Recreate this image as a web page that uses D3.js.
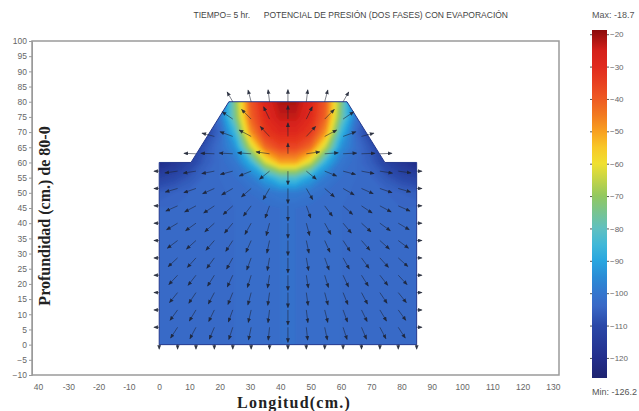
<!DOCTYPE html>
<html>
<head>
<meta charset="utf-8">
<script src="https://cdnjs.cloudflare.com/ajax/libs/d3/7.8.5/d3.min.js"></script>
<style>
  body { margin: 0; background: #fff; }
  text { font-family: "Liberation Sans", Arial, sans-serif; }
</style>
</head>
<body>
<svg class="chart"></svg>
<script>
var xTicks = [-40, -30, -20, -10, 0, 10, 20, 30, 40, 50, 60, 70, 80, 90, 100, 110, 120, 130];
var xTickLabels = ["40", "-30", "-20", "-10", "0", "10", "20", "30", "40", "50", "60", "70", "80", "90", "100", "110", "120", "130"];
var yTicks = [100, 95, 90, 85, 80, 75, 70, 65, 60, 55, 50, 45, 40, 35, 30, 25, 20, 15, 10, 5, 0, -5, -10];

// outline of the soil section (cm)
var shapeX = [0, 85, 85, 74.5, 62, 23, 10.5, 0];
var shapeY = [0, 0, 60, 60, 80, 80, 60, 60];

// pressure potential read on a 5 cm grid, rows from y = 80 down to y = 0
var gridX = [0, 5, 10, 15, 20, 25, 30, 35, 40, 45, 50, 55, 60, 65, 70, 75, 80, 85];
var gridY = [80, 75, 70, 65, 60, 55, 50, 45, 40, 35, 30, 25, 20, 15, 10, 5, 0];
var potential = [
  [-115, -115, -115, -115, -108, -72, -40, -28, -21.5, -21.5, -28, -40, -72, -108, -115, -115, -115, -115],
  [-115, -115, -115, -112, -100, -75, -42, -30, -23.5, -23.5, -30, -42, -75, -100, -112, -115, -115, -115],
  [-115, -115, -115, -112, -104, -85, -49, -33, -29, -29, -33, -49, -85, -104, -112, -115, -115, -115],
  [-115, -115, -114, -108, -102, -94, -66, -43, -36, -36, -43, -66, -94, -102, -108, -114, -115, -115],
  [-121, -117, -112, -106, -103, -100, -88, -64, -51, -51, -64, -88, -100, -103, -106, -112, -117, -121],
  [-112, -110, -107, -104, -103, -102, -99, -91, -82, -82, -91, -99, -102, -103, -104, -107, -110, -112],
  [-106, -105, -104, -104, -103.5, -102.5, -102, -100.5, -99, -99, -100.5, -102, -102.5, -103.5, -104, -104, -105, -106],
  [-104, -104, -104, -104, -103.5, -103, -103, -102.5, -102, -102, -102.5, -103, -103, -103.5, -104, -104, -104, -104],
  [-104, -104, -104, -104, -103.5, -103, -103, -102.5, -102, -102, -102.5, -103, -103, -103.5, -104, -104, -104, -104],
  [-104, -104, -104, -104, -103.5, -103, -103, -102.5, -102, -102, -102.5, -103, -103, -103.5, -104, -104, -104, -104],
  [-104, -104, -104, -104, -103.5, -103, -103, -102.5, -102, -102, -102.5, -103, -103, -103.5, -104, -104, -104, -104],
  [-104, -104, -104, -104, -103.5, -103, -103, -102.5, -102, -102, -102.5, -103, -103, -103.5, -104, -104, -104, -104],
  [-104, -104, -104, -104, -103.5, -103, -103, -102.5, -102, -102, -102.5, -103, -103, -103.5, -104, -104, -104, -104],
  [-104, -104, -104, -104, -103.5, -103, -103, -102.5, -102, -102, -102.5, -103, -103, -103.5, -104, -104, -104, -104],
  [-104, -104, -104, -104, -103.5, -103, -103, -102.5, -102, -102, -102.5, -103, -103, -103.5, -104, -104, -104, -104],
  [-104, -104, -104, -104, -103.5, -103, -103, -102.5, -102, -102, -102.5, -103, -103, -103.5, -104, -104, -104, -104],
  [-104, -104, -104, -104, -103.5, -103, -103, -102.5, -102, -102, -102.5, -103, -103, -103.5, -104, -104, -104, -104]
];

// flux arrows: node positions, direction (deg, counter-clockwise from +x) and relative size
var arrowX = [0, 6.07, 12.14, 18.21, 24.29, 30.36, 36.43, 42.5, 48.57, 54.64, 60.71, 66.79, 72.86, 78.93, 85];
var arrowY = [80, 74.29, 68.57, 62.86, 57.14, 51.43, 45.71, 40, 34.29, 28.57, 22.86, 17.14, 11.43, 5.71, 0];
var arrowAngle = [
  [null, null, null, null, 120, 105, 97, 90, 83, 75, 60, null, null, null, null],
  [null, null, null, null, 146, 135, 116, 90, 64, 45, 34, null, null, null, null],
  [null, null, null, 165, 160, 152, 133, 90, 47, 28, 20, 15, null, null, null],
  [null, null, 178, 178, 177, 176, 172, 90, 8, 4, 3, 2, 2, null, null],
  [180, 188, 189, 191, 195, 202, 219, 270, 321, 338, 345, 349, 351, 352, 0],
  [180, 196, 199, 204, 210, 221, 240, 270, 300, 319, 330, 336, 341, 344, 0],
  [180, 204, 208, 214, 222, 233, 250, 270, 290, 307, 318, 326, 332, 336, 0],
  [180, 211, 216, 222, 230, 241, 255, 270, 285, 299, 310, 318, 324, 329, 0],
  [180, 217, 222, 229, 237, 246, 258, 270, 282, 294, 303, 311, 318, 323, 0],
  [180, 223, 228, 234, 241, 250, 260, 270, 280, 290, 299, 306, 312, 318, 0],
  [180, 227, 232, 238, 245, 253, 261, 270, 279, 287, 295, 302, 308, 313, 0],
  [180, 231, 236, 242, 248, 255, 262, 270, 278, 285, 292, 298, 304, 309, 0],
  [180, 234, 239, 244, 250, 257, 263, 270, 277, 284, 290, 296, 301, 306, 0],
  [180, 237, 242, 247, 252, 258, 264, 270, 276, 282, 288, 293, 298, 303, 0],
  [270, 270, 270, 270, 270, 270, 270, 270, 270, 270, 270, 270, 270, 270, 270]
];
var arrowMag = [
  [0, 0, 0, 0, 0.75, 0.8, 0.8, 0.8, 0.8, 0.8, 0.75, 0, 0, 0, 0],
  [0, 0, 0, 0, 0.85, 0.9, 0.9, 0.9, 0.9, 0.9, 0.85, 0, 0, 0, 0],
  [0, 0, 0, 0.85, 0.9, 0.9, 0.9, 0.9, 0.9, 0.9, 0.9, 0.85, 0, 0, 0],
  [0, 0, 0.8, 0.9, 0.9, 0.9, 0.9, 0.7, 0.9, 0.9, 0.9, 0.9, 0.8, 0, 0],
  [0.35, 0.85, 0.85, 0.85, 0.85, 0.85, 0.85, 0.9, 0.85, 0.85, 0.85, 0.85, 0.85, 0.85, 0.35],
  [0.35, 0.85, 0.85, 0.85, 0.85, 0.85, 0.85, 1, 0.85, 0.85, 0.85, 0.85, 0.85, 0.85, 0.35],
  [0.35, 0.85, 0.85, 0.85, 0.85, 0.85, 0.85, 1, 0.85, 0.85, 0.85, 0.85, 0.85, 0.85, 0.35],
  [0.35, 0.85, 0.85, 0.85, 0.85, 0.85, 0.85, 1, 0.85, 0.85, 0.85, 0.85, 0.85, 0.85, 0.35],
  [0.35, 0.85, 0.85, 0.85, 0.85, 0.85, 0.85, 1, 0.85, 0.85, 0.85, 0.85, 0.85, 0.85, 0.35],
  [0.35, 0.85, 0.85, 0.85, 0.85, 0.85, 0.85, 1, 0.85, 0.85, 0.85, 0.85, 0.85, 0.85, 0.35],
  [0.35, 0.85, 0.85, 0.85, 0.85, 0.85, 0.85, 1, 0.85, 0.85, 0.85, 0.85, 0.85, 0.85, 0.35],
  [0.35, 0.85, 0.85, 0.85, 0.85, 0.85, 0.85, 1, 0.85, 0.85, 0.85, 0.85, 0.85, 0.85, 0.35],
  [0.35, 0.85, 0.85, 0.85, 0.85, 0.85, 0.85, 1, 0.85, 0.85, 0.85, 0.85, 0.85, 0.85, 0.35],
  [0.35, 0.85, 0.85, 0.85, 0.85, 0.85, 0.85, 1, 0.85, 0.85, 0.85, 0.85, 0.85, 0.85, 0.35],
  [0.3, 0.3, 0.3, 0.3, 0.3, 0.3, 0.3, 0.3, 0.3, 0.3, 0.3, 0.3, 0.3, 0.3, 0.3]
];

var cbTicks = [-20, -30, -40, -50, -60, -70, -80, -90, -100, -110, -120];
var cbMax = -18.7, cbMin = -126.2;

// colour map (jet-like, as in the colour bar)
var cmapValues = [-126.2, -120, -110, -104, -100, -95, -90, -85, -80, -75, -70, -65, -60, -55, -50, -45, -40, -35, -30, -25, -18.7];
var cmapColors = ["#1e2470", "#232e8c", "#2a48a8", "#3968c6", "#3476ce", "#2a8cd6", "#28a6e0", "#40b8d8", "#60c0c0", "#78c490",
                  "#92c860", "#c2d448", "#f0e030", "#f8c828", "#f8a020", "#f27a20", "#ee5a22", "#e84020", "#e02a1e", "#d4201a", "#8a0a0a"];

var width = 639, height = 411;
var plot = {left: 32, right: 559, top: 41, bottom: 375};

var x = d3.scaleLinear().domain([-42, 132]).range([plot.left, plot.right]);
var y = d3.scaleLinear().domain([-10, 100]).range([plot.bottom, plot.top]);
var color = d3.scaleLinear().domain(cmapValues).range(cmapColors).clamp(true);
var arrowLen = d3.scaleLinear().domain([0, 1]).range([0, 15]);

var svg = d3.select(".chart")
    .attr("width", width)
    .attr("height", height);
var defs = svg.append("defs");

// plot frame
svg.append("rect")
    .attr("x", plot.left)
    .attr("y", plot.top)
    .attr("width", plot.right - plot.left)
    .attr("height", plot.bottom - plot.top)
    .attr("fill", "none")
    .attr("stroke", "#9a9a9a")
    .attr("stroke-width", 1.5);

// clip for the soil section
var shapePts = shapeX.map(function(d, i) { return [x(d), y(shapeY[i])]; });
defs.append("clipPath").attr("id", "section")
  .append("polygon")
    .attr("points", shapePts.join(" "));

defs.append("filter").attr("id", "soften")
    .attr("filterUnits", "userSpaceOnUse")
    .attr("x", 0).attr("y", 0).attr("width", width).attr("height", height)
  .append("feGaussianBlur")
    .attr("stdDeviation", 1.8);

// filled contours of the potential
var n = gridX.length, m = gridY.length;
var values = [].concat.apply([], potential);
var thresholds = d3.range(-127, -18, 1);
var contours = d3.contours().size([n, m]).thresholds(thresholds)(values);

var gx = d3.scaleLinear().domain([0.5, n - 0.5]).range([x(gridX[0]), x(gridX[n - 1])]);
var gy = d3.scaleLinear().domain([0.5, m - 0.5]).range([y(gridY[0]), y(gridY[m - 1])]);
var path = d3.geoPath(d3.geoTransform({
  point: function(px, py) { this.stream.point(gx(px), gy(py)); }
}));

svg.append("g")
    .attr("clip-path", "url(#section)")
  .append("g")
    .attr("filter", "url(#soften)")
  .selectAll("path")
    .data(contours)
  .enter().append("path")
    .attr("d", path)
    .attr("fill", function(d) { return color(d.value + 0.5); });

svg.append("polygon")
    .attr("points", shapePts.join(" "))
    .attr("fill", "none")
    .attr("stroke", "#24398e")
    .attr("stroke-width", 1);

// quiver arrows
defs.append("marker")
    .attr("id", "head")
    .attr("viewBox", "0 -3 7 6")
    .attr("refX", 6)
    .attr("refY", 0)
    .attr("markerWidth", 5)
    .attr("markerHeight", 4)
    .attr("markerUnits", "userSpaceOnUse")
    .attr("orient", "auto")
  .append("path")
    .attr("d", "M0,-3L7,0L0,3Z")
    .attr("fill", "#1c2233")
    .attr("fill-opacity", 0.85);

var arrows = [];
arrowAngle.forEach(function(row, j) {
  row.forEach(function(a, i) {
    if (a === null) return;
    arrows.push({x: arrowX[i], y: arrowY[j], angle: a, mag: arrowMag[j][i]});
  });
});

svg.append("g")
    .attr("class", "arrows")
  .selectAll("line")
    .data(arrows)
  .enter().append("line")
    .attr("x1", function(d) { return x(d.x); })
    .attr("y1", function(d) { return y(d.y); })
    .attr("x2", function(d) { return x(d.x) + arrowLen(d.mag) * Math.cos(d.angle * Math.PI / 180); })
    .attr("y2", function(d) { return y(d.y) - arrowLen(d.mag) * Math.sin(d.angle * Math.PI / 180); })
    .attr("stroke", "#1c2233")
    .attr("stroke-opacity", 0.7)
    .attr("stroke-width", 0.8)
    .attr("marker-end", "url(#head)");

// axes
var yAxis = svg.append("g")
    .attr("transform", "translate(" + plot.left + ",0)")
    .call(d3.axisLeft(y).tickValues(yTicks).tickSize(3).tickPadding(2));
var xAxis = svg.append("g")
    .attr("transform", "translate(0," + plot.bottom + ")")
    .call(d3.axisBottom(x).tickValues(xTicks).tickSize(0).tickPadding(9)
      .tickFormat(function(d, i) { return xTickLabels[i]; }));
xAxis.select(".domain").remove();
[yAxis, xAxis].forEach(function(a) {
  a.selectAll("text").attr("fill", "#666").style("font-size", "8.5px");
  a.selectAll("line, .domain").attr("stroke", "#9a9a9a");
});

svg.append("text")
    .attr("transform", "translate(50,216) rotate(-90)")
    .attr("text-anchor", "middle")
    .style("font-family", "'Liberation Serif', 'Times New Roman', serif")
    .style("font-weight", "bold")
    .style("font-size", "16px")
    .attr("fill", "#222")
    .text("Profundidad (cm.) de 80-0");

svg.append("text")
    .attr("x", 294)
    .attr("y", 408)
    .attr("text-anchor", "middle")
    .style("font-family", "'Liberation Serif', 'Times New Roman', serif")
    .style("font-weight", "bold")
    .style("font-size", "16px")
    .style("letter-spacing", "1.2px")
    .attr("fill", "#222")
    .text("Longitud(cm.)");

// title
svg.append("text")
    .attr("x", 250)
    .attr("y", 18)
    .attr("text-anchor", "end")
    .style("font-size", "8.5px")
    .attr("fill", "#444")
    .text("TIEMPO= 5 hr.");
svg.append("text")
    .attr("x", 508)
    .attr("y", 18)
    .attr("text-anchor", "end")
    .style("font-size", "8.5px")
    .attr("fill", "#444")
    .text("POTENCIAL DE PRESIÓN (DOS FASES) CON EVAPORACIÓN");

// colour bar
var cb = {x: 592, w: 15, top: 30, bottom: 378};
var cbScale = d3.scaleLinear().domain([cbMin, cbMax]).range([cb.bottom, cb.top]);
var grad = defs.append("linearGradient")
    .attr("id", "cbgrad")
    .attr("x1", 0).attr("y1", 1).attr("x2", 0).attr("y2", 0);
grad.selectAll("stop")
    .data(cmapValues)
  .enter().append("stop")
    .attr("offset", function(d) { return (d - cbMin) / (cbMax - cbMin); })
    .attr("stop-color", function(d, i) { return cmapColors[i]; });

svg.append("rect")
    .attr("x", cb.x)
    .attr("y", cb.top)
    .attr("width", cb.w)
    .attr("height", cb.bottom - cb.top)
    .attr("fill", "url(#cbgrad)");

var cbRight = svg.append("g")
    .attr("transform", "translate(" + (cb.x + cb.w) + ",0)")
    .call(d3.axisRight(cbScale).tickValues(cbTicks).tickSize(2).tickPadding(1));
var cbLeft = svg.append("g")
    .attr("transform", "translate(" + cb.x + ",0)")
    .call(d3.axisLeft(cbScale).tickValues(cbTicks).tickSize(2).tickFormat(""));
[cbRight, cbLeft].forEach(function(a) {
  a.select(".domain").remove();
  a.selectAll("line").attr("stroke", "#555");
  a.selectAll("text").attr("fill", "#666").style("font-size", "8px");
});

svg.append("text")
    .attr("x", cb.x)
    .attr("y", 18)
    .style("font-size", "9px")
    .attr("fill", "#555")
    .text("Max: -18.7");
svg.append("text")
    .attr("x", cb.x)
    .attr("y", 395)
    .style("font-size", "9px")
    .attr("fill", "#555")
    .text("Min: -126.2");
</script>
</body>
</html>
